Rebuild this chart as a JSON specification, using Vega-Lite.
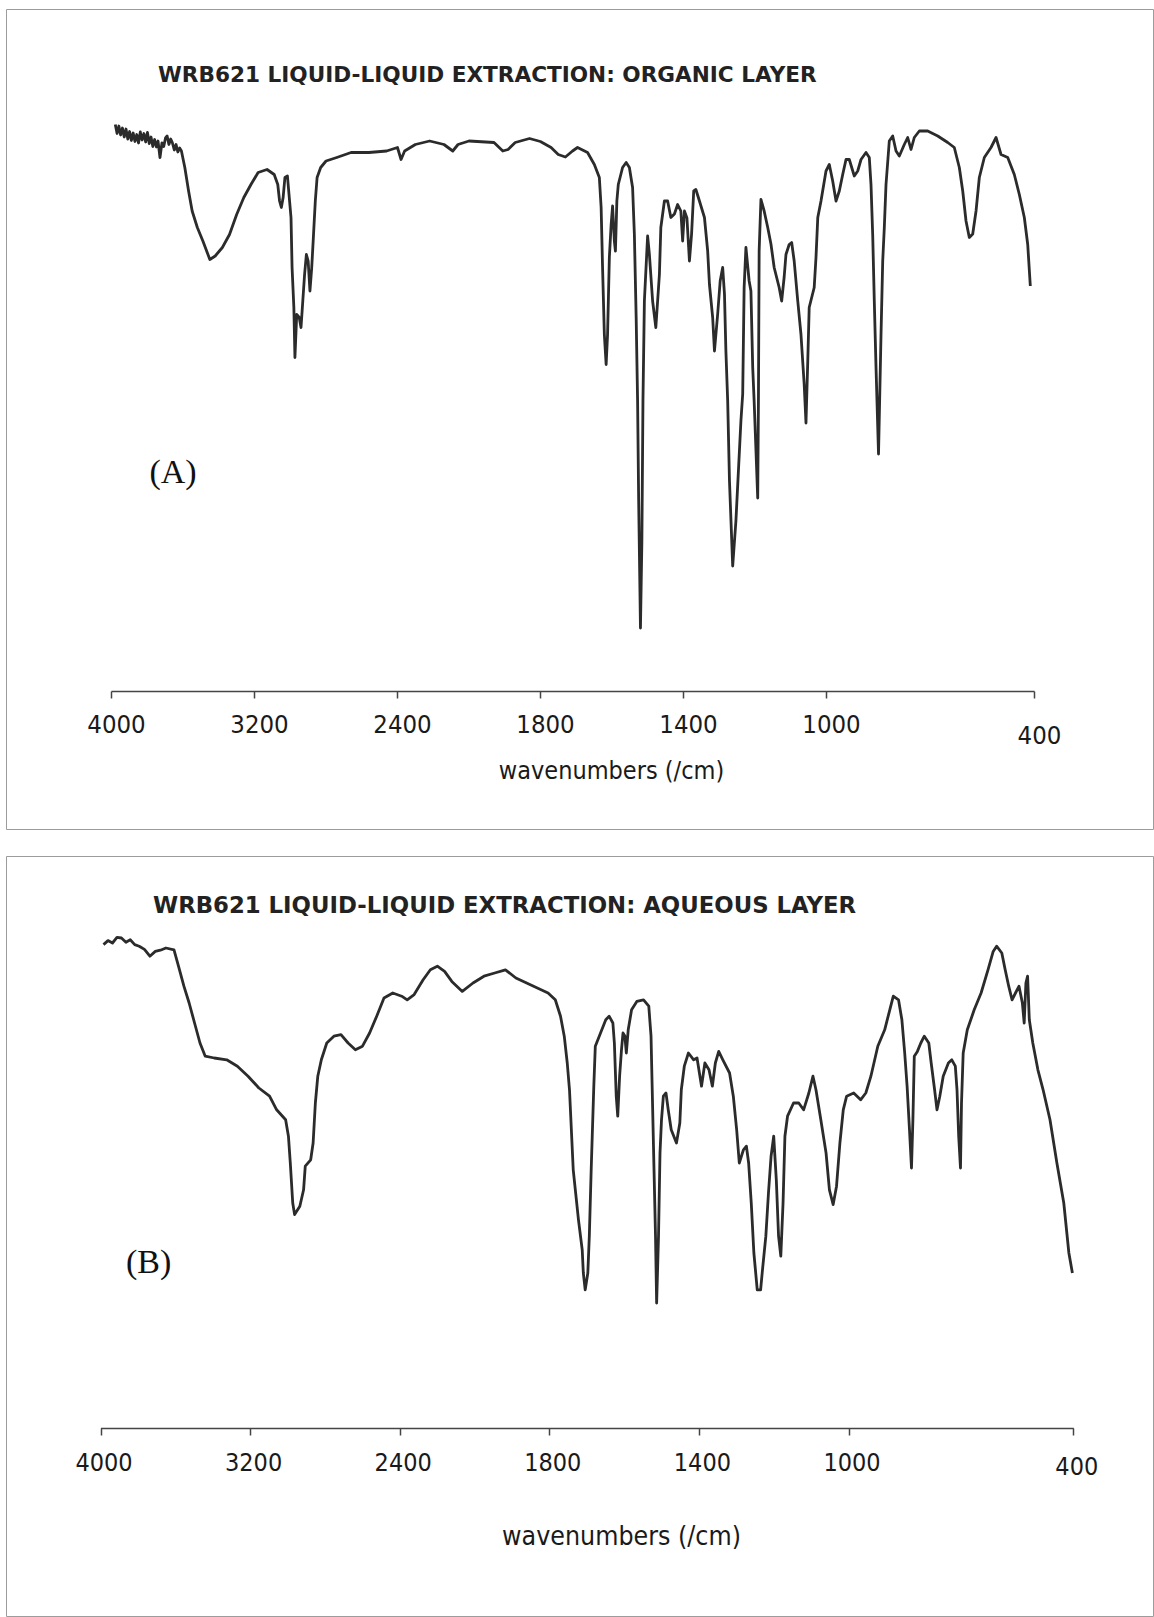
{
  "$schema": "https://vega.github.io/schema/vega-lite/v6.json",
  "background": "white",
  "padding": {"left": 5, "top": 8, "right": 1, "bottom": 3},
  "spacing": 25,
  "config": {
    "view": {"stroke": "#9c9c9c", "strokeWidth": 1}
  },
  "datasets": {
    "organic": [
      {"w":3976,"T":103.3},{"w":3966,"T":101.5},{"w":3956,"T":103},{"w":3946,"T":101.2},{"w":3936,"T":102.6},{"w":3926,"T":100.8},{"w":3916,"T":102.4},{"w":3906,"T":100.4},{"w":3896,"T":101.9},{"w":3886,"T":100.1},{"w":3876,"T":101.6},{"w":3866,"T":99.9},{"w":3856,"T":101.3},{"w":3846,"T":99.6},{"w":3836,"T":101.8},{"w":3826,"T":100.2},{"w":3816,"T":101.5},{"w":3806,"T":99.8},{"w":3796,"T":101.7},{"w":3786,"T":99.5},{"w":3776,"T":100.8},{"w":3766,"T":98.9},{"w":3756,"T":100.3},{"w":3746,"T":98.8},{"w":3737,"T":100},{"w":3726,"T":96.7},{"w":3715,"T":99.6},{"w":3705,"T":98.9},{"w":3695,"T":100.6},{"w":3686,"T":101},{"w":3676,"T":99.3},{"w":3666,"T":100.4},{"w":3657,"T":99.7},{"w":3646,"T":98.2},{"w":3636,"T":99.3},{"w":3626,"T":97.8},{"w":3616,"T":98.6},{"w":3606,"T":98},{"w":3587,"T":94.7},{"w":3566,"T":90},{"w":3546,"T":86},{"w":3517,"T":82.7},{"w":3486,"T":80},{"w":3447,"T":76.3},{"w":3417,"T":77},{"w":3377,"T":78.7},{"w":3337,"T":81.3},{"w":3297,"T":85.3},{"w":3257,"T":88.7},{"w":3217,"T":91.3},{"w":3177,"T":93.7},{"w":3127,"T":94.3},{"w":3087,"T":93.3},{"w":3067,"T":91.3},{"w":3057,"T":88},{"w":3047,"T":86.7},{"w":3037,"T":88.7},{"w":3027,"T":92.7},{"w":3013,"T":93},{"w":3001,"T":88},{"w":2993,"T":84.7},{"w":2987,"T":74.7},{"w":2977,"T":66.7},{"w":2971,"T":56.7},{"w":2961,"T":65.3},{"w":2947,"T":64.7},{"w":2937,"T":62.7},{"w":2927,"T":68},{"w":2917,"T":73.3},{"w":2907,"T":77.3},{"w":2897,"T":76},{"w":2887,"T":70},{"w":2877,"T":74.7},{"w":2867,"T":81.3},{"w":2857,"T":88},{"w":2847,"T":92.7},{"w":2827,"T":94.7},{"w":2797,"T":96},{"w":2737,"T":96.7},{"w":2657,"T":97.7},{"w":2557,"T":97.7},{"w":2458,"T":98},{"w":2398,"T":98.7},{"w":2383,"T":96.3},{"w":2368,"T":98},{"w":2323,"T":99.3},{"w":2263,"T":100},{"w":2203,"T":99.3},{"w":2166,"T":98},{"w":2144,"T":99.3},{"w":2098,"T":100},{"w":1993,"T":99.7},{"w":1956,"T":98},{"w":1934,"T":98.3},{"w":1904,"T":99.7},{"w":1844,"T":100.5},{"w":1799,"T":99.9},{"w":1769,"T":98.7},{"w":1749,"T":97.3},{"w":1729,"T":96.8},{"w":1709,"T":98},{"w":1695,"T":98.7},{"w":1667,"T":97.7},{"w":1648,"T":95.3},{"w":1634,"T":92.7},{"w":1629,"T":86.7},{"w":1625,"T":74.7},{"w":1620,"T":61.3},{"w":1615,"T":55.3},{"w":1611,"T":61.3},{"w":1606,"T":76.7},{"w":1601,"T":83.3},{"w":1597,"T":87},{"w":1592,"T":80},{"w":1589,"T":78},{"w":1585,"T":88},{"w":1581,"T":91.3},{"w":1569,"T":94.7},{"w":1559,"T":95.7},{"w":1550,"T":94.7},{"w":1541,"T":90.7},{"w":1536,"T":81.3},{"w":1531,"T":64.7},{"w":1527,"T":48},{"w":1524,"T":28},{"w":1519,"T":2.6},{"w":1515,"T":20},{"w":1512,"T":48},{"w":1508,"T":68},{"w":1499,"T":81},{"w":1494,"T":77.3},{"w":1485,"T":68},{"w":1476,"T":62.7},{"w":1466,"T":73.3},{"w":1462,"T":82.7},{"w":1452,"T":88},{"w":1443,"T":88},{"w":1434,"T":84.7},{"w":1424,"T":85.4},{"w":1415,"T":87.3},{"w":1406,"T":86},{"w":1401,"T":80},{"w":1396,"T":86},{"w":1389,"T":84.6},{"w":1382,"T":76},{"w":1376,"T":81.4},{"w":1370,"T":90},{"w":1364,"T":90.3},{"w":1354,"T":88},{"w":1340,"T":84.7},{"w":1331,"T":78},{"w":1326,"T":71.3},{"w":1317,"T":64.7},{"w":1312,"T":58},{"w":1303,"T":65.4},{"w":1296,"T":72},{"w":1289,"T":74.7},{"w":1284,"T":69.4},{"w":1280,"T":58},{"w":1275,"T":48},{"w":1270,"T":32},{"w":1261,"T":15},{"w":1252,"T":24},{"w":1238,"T":44},{"w":1233,"T":49.4},{"w":1229,"T":70.7},{"w":1224,"T":78.7},{"w":1215,"T":72},{"w":1210,"T":70},{"w":1205,"T":54.7},{"w":1201,"T":48},{"w":1191,"T":28.6},{"w":1189,"T":48},{"w":1187,"T":78},{"w":1182,"T":88.3},{"w":1173,"T":86},{"w":1163,"T":82.7},{"w":1154,"T":79.4},{"w":1145,"T":74.7},{"w":1131,"T":70.7},{"w":1124,"T":68},{"w":1117,"T":72.8},{"w":1112,"T":77.3},{"w":1103,"T":79.3},{"w":1096,"T":79.7},{"w":1089,"T":76},{"w":1079,"T":68},{"w":1070,"T":61.3},{"w":1061,"T":51.3},{"w":1056,"T":43.6},{"w":1051,"T":56},{"w":1047,"T":66.7},{"w":1033,"T":70.7},{"w":1028,"T":76.7},{"w":1023,"T":84.7},{"w":1014,"T":88},{"w":1000,"T":94},{"w":990.5,"T":95.3},{"w":980.7,"T":92},{"w":971.1,"T":88},{"w":961.6,"T":90},{"w":951.8,"T":93.3},{"w":942.3,"T":96.3},{"w":932.8,"T":96.3},{"w":918.4,"T":93},{"w":908.5,"T":94},{"w":899,"T":96.3},{"w":884.6,"T":97.7},{"w":875.1,"T":96.7},{"w":870.2,"T":91.3},{"w":865.3,"T":81.3},{"w":860.7,"T":68},{"w":855.7,"T":54.7},{"w":848.5,"T":37.4},{"w":841.3,"T":61.3},{"w":836.4,"T":76},{"w":831.8,"T":82.7},{"w":826.9,"T":91.3},{"w":817.4,"T":100},{"w":807.6,"T":101},{"w":798,"T":98},{"w":788.5,"T":97},{"w":774.1,"T":99.3},{"w":764.3,"T":100.7},{"w":754.8,"T":98.3},{"w":745.3,"T":100.7},{"w":730.8,"T":102},{"w":706.6,"T":102},{"w":677.7,"T":101},{"w":648.9,"T":99.7},{"w":629.9,"T":98.7},{"w":615.4,"T":94.7},{"w":605.6,"T":90},{"w":596.1,"T":84},{"w":586.6,"T":80.7},{"w":576.8,"T":81.4},{"w":567.2,"T":86},{"w":557.7,"T":92.7},{"w":543.3,"T":96.7},{"w":524,"T":98.7},{"w":509.5,"T":100.7},{"w":495.1,"T":97.3},{"w":475.8,"T":96.7},{"w":456.8,"T":93.3},{"w":442.3,"T":89.3},{"w":427.9,"T":84.7},{"w":418.1,"T":79.3},{"w":410.6,"T":71}
    ],
    "aqueous": [
      {"w":3984,"T":89.6},{"w":3960,"T":90.6},{"w":3936,"T":90},{"w":3912,"T":91.4},{"w":3888,"T":91.25},{"w":3864,"T":90.2},{"w":3841,"T":90.8},{"w":3817,"T":89.6},{"w":3793,"T":89.2},{"w":3765,"T":88.4},{"w":3736,"T":86.7},{"w":3707,"T":87.9},{"w":3680,"T":88.2},{"w":3650,"T":88.75},{"w":3607,"T":88.3},{"w":3583,"T":84.2},{"w":3554,"T":79.2},{"w":3526,"T":75},{"w":3497,"T":70},{"w":3468,"T":65},{"w":3440,"T":61.7},{"w":3392,"T":61.25},{"w":3325,"T":60.8},{"w":3268,"T":59.2},{"w":3211,"T":56.7},{"w":3153,"T":53.75},{"w":3096,"T":51.7},{"w":3058,"T":48.3},{"w":3010,"T":45.8},{"w":2995,"T":41.7},{"w":2985,"T":35},{"w":2972,"T":25},{"w":2962,"T":22.1},{"w":2934,"T":24.2},{"w":2914,"T":28.3},{"w":2905,"T":34.2},{"w":2876,"T":35.8},{"w":2863,"T":40},{"w":2851,"T":50},{"w":2838,"T":56.7},{"w":2819,"T":60.8},{"w":2790,"T":65},{"w":2752,"T":66.7},{"w":2714,"T":67.1},{"w":2676,"T":65},{"w":2637,"T":63.3},{"w":2599,"T":64.2},{"w":2561,"T":67.5},{"w":2523,"T":71.7},{"w":2484,"T":76.25},{"w":2437,"T":77.5},{"w":2392,"T":76.7},{"w":2370,"T":75.8},{"w":2342,"T":77.1},{"w":2306,"T":80.8},{"w":2277,"T":83.3},{"w":2249,"T":84.2},{"w":2220,"T":82.9},{"w":2191,"T":80.4},{"w":2149,"T":77.9},{"w":2106,"T":80},{"w":2062,"T":81.7},{"w":2019,"T":82.5},{"w":1976,"T":83.3},{"w":1934,"T":81.25},{"w":1891,"T":80},{"w":1848,"T":78.75},{"w":1805,"T":77.5},{"w":1784,"T":75.8},{"w":1770,"T":71.7},{"w":1760,"T":66.7},{"w":1752,"T":60},{"w":1746,"T":53.3},{"w":1736,"T":33.3},{"w":1722,"T":20.8},{"w":1712,"T":13.3},{"w":1709,"T":7.5},{"w":1704,"T":3.3},{"w":1697,"T":7.5},{"w":1693,"T":16.7},{"w":1688,"T":33.3},{"w":1681,"T":54.2},{"w":1677,"T":64.2},{"w":1663,"T":67.5},{"w":1649,"T":70.8},{"w":1640,"T":71.7},{"w":1630,"T":70},{"w":1626,"T":65},{"w":1621,"T":51.7},{"w":1617,"T":46.7},{"w":1612,"T":56.7},{"w":1607,"T":63.3},{"w":1603,"T":67.5},{"w":1598,"T":66.75},{"w":1594,"T":62.5},{"w":1589,"T":68.3},{"w":1580,"T":73.3},{"w":1566,"T":75.4},{"w":1548,"T":75.8},{"w":1534,"T":74.2},{"w":1528,"T":66.7},{"w":1525,"T":54.2},{"w":1520,"T":33.3},{"w":1516,"T":16.7},{"w":1513,"T":0},{"w":1508,"T":16.7},{"w":1504,"T":37.5},{"w":1500,"T":45.8},{"w":1495,"T":51.7},{"w":1488,"T":52.5},{"w":1482,"T":48.3},{"w":1474,"T":43.3},{"w":1460,"T":40},{"w":1451,"T":45},{"w":1447,"T":53.3},{"w":1439,"T":59.2},{"w":1428,"T":62.5},{"w":1414,"T":60.8},{"w":1405,"T":61.25},{"w":1393,"T":54.2},{"w":1384,"T":60},{"w":1373,"T":58.3},{"w":1364,"T":54.2},{"w":1356,"T":60},{"w":1347,"T":62.9},{"w":1336,"T":60.8},{"w":1318,"T":57.5},{"w":1308,"T":51.7},{"w":1299,"T":43.3},{"w":1292,"T":35},{"w":1281,"T":38.3},{"w":1273,"T":39.2},{"w":1267,"T":35},{"w":1260,"T":25},{"w":1253,"T":12.5},{"w":1244,"T":3.3},{"w":1235,"T":3.3},{"w":1230,"T":8.3},{"w":1221,"T":16.7},{"w":1214,"T":27.5},{"w":1207,"T":36.7},{"w":1200,"T":41.7},{"w":1193,"T":30.8},{"w":1187,"T":16.7},{"w":1181,"T":11.7},{"w":1175,"T":25},{"w":1170,"T":41.7},{"w":1163,"T":46.7},{"w":1147,"T":50},{"w":1133,"T":50},{"w":1120,"T":48.3},{"w":1106,"T":52.5},{"w":1095,"T":56.7},{"w":1087,"T":53.3},{"w":1074,"T":45.8},{"w":1060,"T":37.5},{"w":1051,"T":28.3},{"w":1041,"T":24.6},{"w":1032,"T":29.2},{"w":1023,"T":40},{"w":1014,"T":48.3},{"w":1005,"T":51.7},{"w":986.1,"T":52.5},{"w":967.7,"T":50.8},{"w":953.8,"T":52.5},{"w":940.2,"T":56.7},{"w":921.8,"T":64.2},{"w":903.4,"T":68.3},{"w":889.8,"T":73.3},{"w":880.4,"T":76.7},{"w":866.5,"T":75.8},{"w":857.5,"T":70.8},{"w":850,"T":62.5},{"w":843.6,"T":54.2},{"w":837.2,"T":43.3},{"w":831.9,"T":33.75},{"w":828.1,"T":45.8},{"w":824.4,"T":61.7},{"w":816.1,"T":62.9},{"w":807,"T":65},{"w":797.7,"T":66.7},{"w":785.7,"T":65},{"w":779.3,"T":60},{"w":770.2,"T":53.3},{"w":763.8,"T":48.3},{"w":756.3,"T":51.7},{"w":747.2,"T":56.7},{"w":733.4,"T":60},{"w":724.3,"T":60.8},{"w":714.9,"T":59.2},{"w":710.4,"T":53.3},{"w":705.9,"T":41.7},{"w":701.1,"T":33.75},{"w":698.4,"T":50},{"w":693.9,"T":62.5},{"w":682.9,"T":68.3},{"w":664.5,"T":73.3},{"w":646.1,"T":77.5},{"w":627.7,"T":83.3},{"w":613.8,"T":87.9},{"w":604.7,"T":89.2},{"w":590.8,"T":87.5},{"w":581.8,"T":83.3},{"w":572.4,"T":79.2},{"w":563.4,"T":75.8},{"w":554.3,"T":77.5},{"w":544.9,"T":79.2},{"w":535.9,"T":75},{"w":531.1,"T":70},{"w":526.5,"T":80},{"w":522,"T":81.7},{"w":517.4,"T":70.8},{"w":508.1,"T":65},{"w":494.5,"T":58.3},{"w":480.6,"T":53.3},{"w":462.2,"T":45.8},{"w":443.8,"T":35},{"w":425.4,"T":25},{"w":411.8,"T":12.5},{"w":402.4,"T":7.5}
    ]
  },
  "vconcat": [
    {
      "width": 1147,
      "height": 820,
      "title": {
        "text": "WRB621 LIQUID-LIQUID EXTRACTION: ORGANIC LAYER",
        "anchor": "start", "frame": "group", "orient": "top",
        "offset": -95, "baseline": "alphabetic", "dx": 152,
        "font": "DejaVu Sans", "fontSize": 21.6, "fontWeight": "bold", "color": "#222222"
      },
      "encoding": {
        "x": {
          "field": "w", "type": "quantitative",
          "scale": {"domain": [4000, 3200, 2400, 1800, 1400, 1000, 400], "range": [105, 248, 391, 534, 677, 820, 1028], "nice": false, "zero": false},
          "axis": {
            "orient": "bottom", "offset": -138, "grid": false,
            "values": [4000, 3200, 2400, 1800, 1400, 1000, 400], "format": "d",
            "domainColor": "#444444", "domainWidth": 1.5,
            "tickColor": "#444444", "tickWidth": 1.5, "tickSize": 7,
            "labelFont": "DejaVu Sans Condensed, DejaVu Sans", "labelFontSize": 25.5, "labelColor": "#1a1a1a",
            "labelPadding": {"condition": {"test": "datum.value === 400", "value": 25}, "value": 14},
            "labelOffset": 5, "labelFlush": false, "labelOverlap": false, "labelBound": false,
            "title": "wavenumbers (/cm)",
            "titleFont": "DejaVu Sans Condensed, DejaVu Sans", "titleFontSize": 25, "titleFontWeight": "normal", "titleColor": "#1a1a1a",
            "titleX": 605, "titleY": 79, "titleBaseline": "middle", "titleAlign": "center"
          }
        },
        "y": {
          "field": "T", "type": "quantitative",
          "scale": {"domain": [-37.6, 126.4], "nice": false, "zero": false},
          "axis": null
        }
      },
      "layer": [
        {"data": {"name": "organic"}, "mark": {"type": "line", "color": "#2b2b2b", "strokeWidth": 2.8, "strokeJoin": "round"}},
        {"data": {"values": [{"w": 3653, "T": 33.6, "label": "(A)"}]}, "mark": {"type": "text", "font": "Liberation Serif", "fontSize": 34, "color": "#111111", "align": "center", "baseline": "middle"}, "encoding": {"text": {"field": "label"}}}
      ]
    },
    {
      "width": 1147,
      "height": 760,
      "title": {
        "text": "WRB621 LIQUID-LIQUID EXTRACTION: AQUEOUS LAYER",
        "anchor": "start", "frame": "group", "orient": "top",
        "offset": -80, "baseline": "alphabetic", "dx": 147,
        "font": "DejaVu Sans", "fontSize": 22.8, "fontWeight": "bold", "color": "#222222"
      },
      "encoding": {
        "x": {
          "field": "w", "type": "quantitative",
          "scale": {"domain": [4000, 3200, 2400, 1800, 1400, 1000, 400], "range": [94.5, 244.1, 393.7, 543.3, 692.9, 842.5, 1067.3], "nice": false, "zero": false},
          "axis": {
            "orient": "bottom", "offset": -188, "grid": false,
            "values": [4000, 3200, 2400, 1800, 1400, 1000, 400], "format": "d",
            "domainColor": "#444444", "domainWidth": 1.5,
            "tickColor": "#444444", "tickWidth": 1.5, "tickSize": 7,
            "labelFont": "DejaVu Sans Condensed, DejaVu Sans", "labelFontSize": 25, "labelColor": "#1a1a1a",
            "labelPadding": {"condition": {"test": "datum.value === 400", "value": 19}, "value": 15},
            "labelOffset": 3, "labelFlush": false, "labelOverlap": false, "labelBound": false,
            "title": "wavenumbers (/cm)",
            "titleFont": "DejaVu Sans Condensed, DejaVu Sans", "titleFontSize": 26.5, "titleFontWeight": "normal", "titleColor": "#1a1a1a",
            "titleX": 615, "titleY": 108, "titleBaseline": "middle", "titleAlign": "center"
          }
        },
        "y": {
          "field": "T", "type": "quantitative",
          "scale": {"domain": [-78.25, 111.75], "nice": false, "zero": false},
          "axis": null
        }
      },
      "layer": [
        {"data": {"name": "aqueous"}, "mark": {"type": "line", "color": "#2b2b2b", "strokeWidth": 2.8, "strokeJoin": "round"}},
        {"data": {"values": [{"w": 3743, "T": 10, "label": "(B)"}]}, "mark": {"type": "text", "font": "Liberation Serif", "fontSize": 34, "color": "#111111", "align": "center", "baseline": "middle"}, "encoding": {"text": {"field": "label"}}}
      ]
    }
  ]
}
